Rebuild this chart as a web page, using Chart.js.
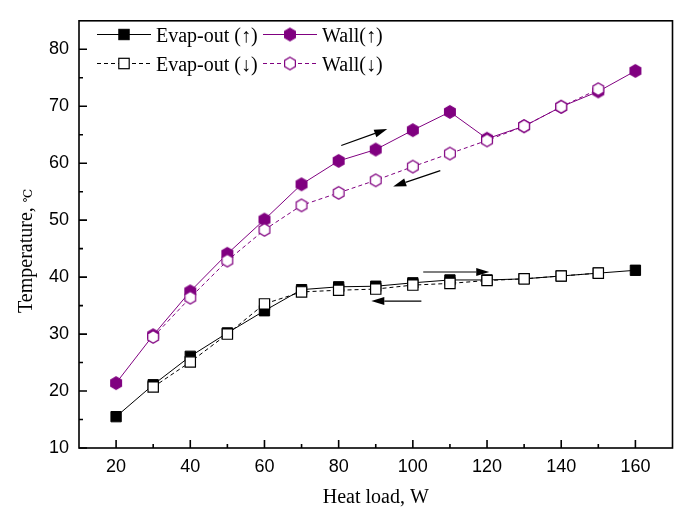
<!DOCTYPE html>
<html>
<head>
<meta charset="utf-8">
<script src="https://cdn.jsdelivr.net/npm/chart.js@4/dist/chart.umd.min.js"></script>
<style>
  html, body { margin: 0; padding: 0; background: #fff; }
  canvas { display: block; }
</style>
</head>
<body>
<canvas id="chart" width="681" height="507"></canvas>
<script>
// heat load (W) for the heating-up and cooling-down runs
const loadUp = [20, 30, 40, 50, 60, 70, 80, 90, 100, 110, 120, 130, 140, 150, 160];
const loadDown = [30, 40, 50, 60, 70, 80, 90, 100, 110, 120, 130, 140, 150];

// temperatures (°C)
const evapUp = [15.5, 21.1, 26.1, 30.2, 34.1, 37.8, 38.3, 38.4, 39.0, 39.5, 39.5, 39.7, 40.2, 40.7, 41.2];
const evapDown = [20.7, 25.1, 30.0, 35.3, 37.4, 37.7, 37.9, 38.6, 38.9, 39.4, 39.7, 40.2, 40.7];
const wallUp = [21.4, 29.8, 37.5, 44.1, 50.1, 56.3, 60.4, 62.4, 65.8, 69.0, 64.3, 66.5, 69.9, 72.6, 76.2];
const wallDown = [29.5, 36.4, 42.9, 48.3, 52.6, 54.8, 57.0, 59.4, 61.7, 64.0, 66.5, 69.9, 73.0];

// axis ticks
const xTicks = [20, 40, 60, 80, 100, 120, 140, 160];
const xMinor = [30, 50, 70, 90, 110, 130, 150];
const yTicks = [10, 20, 30, 40, 50, 60, 70, 80];
const yMinor = [15, 25, 35, 45, 55, 65, 75];

// direction arrows in data units: [x0, y0, x1, y1]
const arrowUpWall = [80.7, 63.1, 93.1, 66.0];
const arrowDownWall = [107.4, 58.7, 94.7, 55.9];
const arrowUpEvap = [102.8, 40.9, 120.6, 40.9];
const arrowDownEvap = [102.3, 35.8, 88.8, 35.8];

const PURPLE = '#800080';
const SERIF = '"Liberation Serif", "Times New Roman", "DejaVu Serif", serif';
const SANS = '"Liberation Sans", Arial, sans-serif';

function makeHex(fill, stroke, r) {
  const c = document.createElement('canvas');
  const s = Math.ceil(r * 2 + 3);
  c.width = s; c.height = s;
  const g = c.getContext('2d');
  g.beginPath();
  for (let k = 0; k < 6; k++) {
    const a = -Math.PI / 2 + k * Math.PI / 3;
    const px = s / 2 + r * Math.cos(a), py = s / 2 + r * Math.sin(a);
    k ? g.lineTo(px, py) : g.moveTo(px, py);
  }
  g.closePath();
  g.fillStyle = fill; g.fill();
  g.strokeStyle = stroke; g.lineWidth = 1.2; g.stroke();
  return c;
}
const hexFull = makeHex(PURPLE, PURPLE, 6.2);
const hexOpen = makeHex('#fff', PURPLE, 6.2);

const pts = (xs, ys) => xs.map((x, i) => ({ x, y: ys[i] }));

const datasets = [
  { label: 'Evap-out (↑)', data: pts(loadUp, evapUp), borderColor: '#000', backgroundColor: '#000',
    pointStyle: 'rect', pointRadius: 7.3, pointBorderWidth: 1, order: 4 },
  { label: 'Evap-out (↓)', data: pts(loadDown, evapDown), borderColor: '#000', backgroundColor: '#fff',
    pointStyle: 'rect', pointRadius: 7.3, pointBorderWidth: 1.2, borderDash: [4, 3], order: 3 },
  { label: 'Wall(↑)', data: pts(loadUp, wallUp), borderColor: PURPLE, backgroundColor: PURPLE,
    pointStyle: hexFull, order: 2 },
  { label: 'Wall(↓)', data: pts(loadDown, wallDown), borderColor: PURPLE, backgroundColor: '#fff',
    pointStyle: hexOpen, borderDash: [4, 3], order: 1 }
];
datasets.forEach(d => { d.borderWidth = 1; d.tension = 0; d.pointHoverRadius = d.pointRadius; });

function drawArrow(ctx, xs, ys, a) {
  const x0 = xs.getPixelForValue(a[0]), y0 = ys.getPixelForValue(a[1]);
  const x1 = xs.getPixelForValue(a[2]), y1 = ys.getPixelForValue(a[3]);
  const ang = Math.atan2(y1 - y0, x1 - x0), len = 13, w = 4;
  const bx = x1 - len * Math.cos(ang), by = y1 - len * Math.sin(ang);
  ctx.beginPath(); ctx.moveTo(x0, y0); ctx.lineTo(bx, by); ctx.stroke();
  ctx.beginPath();
  ctx.moveTo(x1, y1);
  ctx.lineTo(bx + w * Math.sin(ang), by - w * Math.cos(ang));
  ctx.lineTo(bx - w * Math.sin(ang), by + w * Math.cos(ang));
  ctx.closePath(); ctx.fill();
}

const decor = {
  id: 'decor',
  afterDatasetsDraw(chart) {
    const { ctx, chartArea: a, scales: { x, y } } = chart;
    ctx.save();
    ctx.strokeStyle = '#000'; ctx.fillStyle = '#000';
    ctx.lineWidth = 1.6;
    ctx.strokeRect(a.left, a.top, a.right - a.left, a.bottom - a.top);
    ctx.beginPath();
    xTicks.forEach(v => { const p = x.getPixelForValue(v); ctx.moveTo(p, a.bottom); ctx.lineTo(p, a.bottom - 8); });
    xMinor.forEach(v => { const p = x.getPixelForValue(v); ctx.moveTo(p, a.bottom); ctx.lineTo(p, a.bottom - 4); });
    yTicks.forEach(v => { const p = y.getPixelForValue(v); ctx.moveTo(a.left, p); ctx.lineTo(a.left + 8, p); });
    yMinor.forEach(v => { const p = y.getPixelForValue(v); ctx.moveTo(a.left, p); ctx.lineTo(a.left + 4, p); });
    ctx.stroke();

    // arrows
    ctx.lineWidth = 1.2;
    [arrowUpWall, arrowDownWall, arrowUpEvap, arrowDownEvap].forEach(ar => drawArrow(ctx, x, y, ar));

    // axis titles
    ctx.textAlign = 'center'; ctx.textBaseline = 'alphabetic';
    ctx.font = '20px ' + SERIF;
    ctx.fillText('Heat load, W', (a.left + a.right) / 2, 503);
    ctx.save();
    ctx.translate(32, 313); ctx.rotate(-Math.PI / 2);
    ctx.textAlign = 'left';
    const t = 'Temperature, ';
    ctx.fillText(t, 0, 0);
    const tw = ctx.measureText(t).width;
    ctx.font = '12px ' + SERIF;
    ctx.fillText('℃', tw, 0);
    ctx.restore();

    // legend
    const cols = [97, 263], rows = [34.5, 63.5];
    chart.data.datasets.forEach((d, i) => {
      const cx = cols[Math.floor(i / 2)], cy = rows[i % 2];
      ctx.strokeStyle = d.borderColor; ctx.lineWidth = 1;
      ctx.setLineDash(d.borderDash || []);
      ctx.beginPath(); ctx.moveTo(cx, cy); ctx.lineTo(cx + 54, cy); ctx.stroke();
      ctx.setLineDash([]);
      const mx = cx + 27;
      if (d.pointStyle === 'rect') {
        ctx.fillStyle = d.backgroundColor;
        ctx.fillRect(mx - 5.2, cy - 5.2, 10.4, 10.4);
        ctx.lineWidth = d.pointBorderWidth;
        ctx.strokeRect(mx - 5.2, cy - 5.2, 10.4, 10.4);
      } else {
        ctx.drawImage(d.pointStyle, mx - d.pointStyle.width / 2, cy - d.pointStyle.height / 2);
      }
      ctx.fillStyle = '#000';
      ctx.font = '20px ' + SERIF;
      ctx.textAlign = 'left'; ctx.textBaseline = 'alphabetic';
      ctx.fillText(d.label, cx + 59, cy + 7.5);
    });
    ctx.restore();
  }
};

new Chart(document.getElementById('chart').getContext('2d'), {
  type: 'line',
  data: { datasets },
  options: {
    responsive: false,
    animation: false,
    layout: { padding: { left: 0, right: 7, top: 9, bottom: 0 } },
    plugins: { legend: { display: false }, tooltip: { enabled: false } },
    scales: {
      x: {
        type: 'linear', min: 10, max: 170,
        grid: { display: false, drawTicks: false }, border: { display: false },
        afterBuildTicks: s => { s.ticks = xTicks.map(v => ({ value: v })); },
        afterFit: s => { s.height = 59; },
        ticks: { color: '#000', font: { family: SANS, size: 18 }, padding: 8, maxRotation: 0 }
      },
      y: {
        type: 'linear', min: 10, max: 85,
        grid: { display: false, drawTicks: false }, border: { display: false },
        afterBuildTicks: s => { s.ticks = yTicks.map(v => ({ value: v })); },
        afterFit: s => { s.width = 79; },
        ticks: { color: '#000', font: { family: SANS, size: 18 }, padding: 10 }
      }
    }
  },
  plugins: [decor]
});
</script>
</body>
</html>
